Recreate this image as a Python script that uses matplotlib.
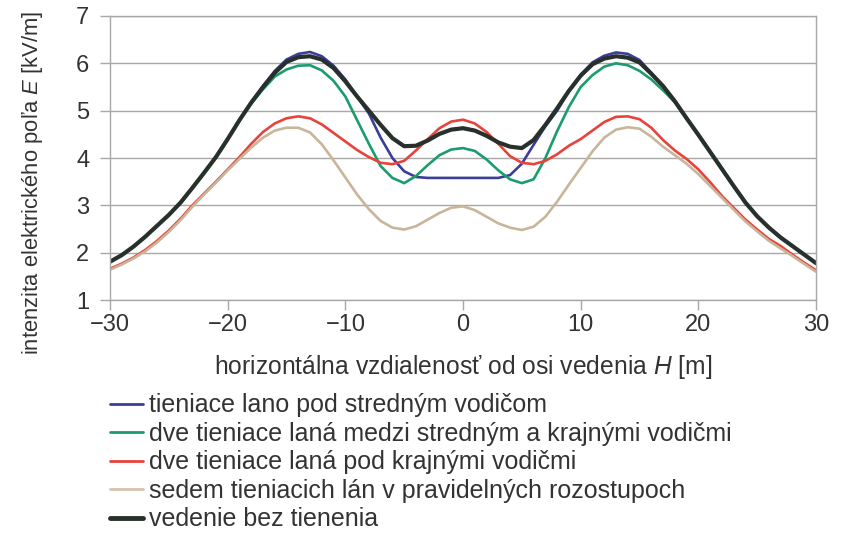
import numpy as np
import matplotlib
matplotlib.use('Agg')
import matplotlib.pyplot as plt

plt.rcParams['font.family'] = ['Liberation Sans', 'DejaVu Sans']
plt.rcParams['mathtext.fontset'] = 'custom'
plt.rcParams['mathtext.it'] = 'Liberation Sans:italic'
plt.rcParams['mathtext.rm'] = 'Liberation Sans'

# horizontal distance from the line axis [m]
dist = list(range(-30, 31))

# field strength [kV/m]
unshielded = [1.81, 1.95, 2.13, 2.34, 2.57, 2.80, 3.06, 3.37, 3.69, 4.02,
              4.40, 4.80, 5.17, 5.50, 5.80, 6.03, 6.13, 6.15, 6.08, 5.90,
              5.62, 5.30, 5.00, 4.70, 4.42, 4.25, 4.26, 4.37, 4.51, 4.60,
              4.63,
              4.58, 4.47, 4.33, 4.24, 4.21, 4.38, 4.70, 5.05, 5.42, 5.74,
              5.98, 6.10, 6.15, 6.12, 6.02, 5.78, 5.52, 5.20, 4.84, 4.49,
              4.13, 3.77, 3.41, 3.06, 2.77, 2.53, 2.32, 2.14, 1.96, 1.78]
one_mid = [1.81, 1.95, 2.13, 2.34, 2.57, 2.80, 3.06, 3.37, 3.69, 4.02,
           4.40, 4.80, 5.17, 5.52, 5.84, 6.08, 6.20, 6.24, 6.15, 5.95,
           5.66, 5.30, 4.94, 4.43, 4.00, 3.72, 3.60, 3.58, 3.58, 3.58,
           3.58,
           3.58, 3.58, 3.58, 3.64, 3.88, 4.28, 4.67, 5.00, 5.42, 5.76,
           6.02, 6.16, 6.23, 6.20, 6.07, 5.80, 5.52, 5.20, 4.84, 4.49,
           4.13, 3.77, 3.41, 3.06, 2.77, 2.53, 2.32, 2.14, 1.96, 1.78]
two_between = [1.81, 1.95, 2.13, 2.34, 2.57, 2.80, 3.06, 3.37, 3.69, 4.02,
               4.40, 4.80, 5.15, 5.45, 5.72, 5.87, 5.95, 5.96, 5.85, 5.63,
               5.30, 4.80, 4.30, 3.83, 3.58, 3.47, 3.62, 3.85, 4.06, 4.18,
               4.21,
               4.15, 3.97, 3.74, 3.55, 3.47, 3.55, 4.00, 4.57, 5.08, 5.50,
               5.75, 5.93, 6.00, 5.96, 5.84, 5.66, 5.43, 5.18, 4.84, 4.49,
               4.13, 3.77, 3.41, 3.06, 2.77, 2.53, 2.32, 2.14, 1.96, 1.78]
two_outer = [1.66, 1.77, 1.90, 2.06, 2.25, 2.47, 2.72, 3.00, 3.25, 3.50,
             3.76, 4.02, 4.30, 4.55, 4.73, 4.84, 4.88, 4.84, 4.71, 4.53,
             4.35, 4.17, 4.02, 3.90, 3.87, 3.94, 4.16, 4.40, 4.63, 4.77,
             4.81,
             4.73, 4.55, 4.30, 4.04, 3.90, 3.87, 3.94, 4.08, 4.26, 4.40,
             4.58, 4.76, 4.87, 4.88, 4.82, 4.64, 4.38, 4.16, 3.98, 3.76,
             3.49, 3.20, 2.95, 2.70, 2.49, 2.29, 2.14, 1.96, 1.79, 1.63]
seven = [1.64, 1.75, 1.88, 2.03, 2.22, 2.44, 2.69, 2.97, 3.23, 3.48,
         3.74, 3.98, 4.22, 4.43, 4.58, 4.64, 4.64, 4.54, 4.29, 3.95,
         3.59, 3.23, 2.92, 2.67, 2.53, 2.49, 2.56, 2.70, 2.84, 2.95,
         2.98,
         2.90, 2.76, 2.62, 2.53, 2.48, 2.55, 2.76, 3.08, 3.44, 3.79,
         4.14, 4.43, 4.60, 4.65, 4.62, 4.45, 4.24, 4.06, 3.88, 3.66,
         3.41, 3.16, 2.91, 2.66, 2.45, 2.25, 2.09, 1.93, 1.76, 1.60]

labels = ['tieniace lano pod stredným vodičom',
          'dve tieniace laná medzi stredným a krajnými vodičmi',
          'dve tieniace laná pod krajnými vodičmi',
          'sedem tieniacich lán v pravidelných rozostupoch',
          'vedenie bez tienenia']
colors = ['#3c3d9a', '#1a9c6c', '#e8433b', '#c8b59a', '#27302a']


def main():
    fig = plt.figure(figsize=(8.43, 5.33), dpi=100)
    ax = fig.add_axes([0.1305, 0.437, 0.8375, 0.533])

    series = [one_mid, two_between, two_outer, seven]
    for ys, lab, c in zip(series, labels[:4], colors[:4]):
        ax.plot(dist, ys, color=c, lw=1.9, label=lab,
                solid_capstyle='round', solid_joinstyle='round')
    ax.plot(dist, unshielded, color=colors[4], lw=3.0, label=labels[4],
            solid_capstyle='round', solid_joinstyle='round')

    ax.set_xlim(-30, 30)
    ax.set_ylim(1, 7)
    ax.set_xticks(range(-30, 31, 10))
    ax.set_yticks(range(1, 8))
    ax.set_xticklabels(['\u221230', '\u221220', '\u221210', '0', '10', '20', '30'])
    ax.yaxis.grid(True, color='#a8a8a8', lw=1.0)
    for s in ax.spines.values():
        s.set_color('#a8a8a8')
        s.set_linewidth(1.0)
    ax.tick_params(colors='#a8a8a8', labelcolor='#333333', labelsize=17,
                   length=7, width=1.0)
    ax.tick_params(axis='y', pad=8)
    ax.tick_params(axis='x', pad=3)

    ax.set_xlabel('horizontálna vzdialenosť od osi vedenia $\\mathit{H}$ [m]',
                  fontsize=17.7, color='#333333', labelpad=12)
    fig.text(0.039, 0.657, 'intenzita elektrického poľa $\\mathit{E}$ [kV/m]',
             fontsize=15.8, color='#333333', rotation=90,
             ha='center', va='center')

    leg = fig.legend(loc='upper left', bbox_to_anchor=(0.1305, 0.262),
                     frameon=False, fontsize=18, handlelength=1.3,
                     handletextpad=0.25, labelspacing=0.18,
                     borderaxespad=0, borderpad=0)
    for t in leg.get_texts():
        t.set_color('#333333')
    for h in leg.get_lines():
        h.set_linewidth(2.0)
    leg.get_lines()[3].set_color('#d4c4aa')
    leg.get_lines()[4].set_linewidth(3.5)

    fig.savefig('out.png', dpi=100)


if __name__ == '__main__':
    main()
